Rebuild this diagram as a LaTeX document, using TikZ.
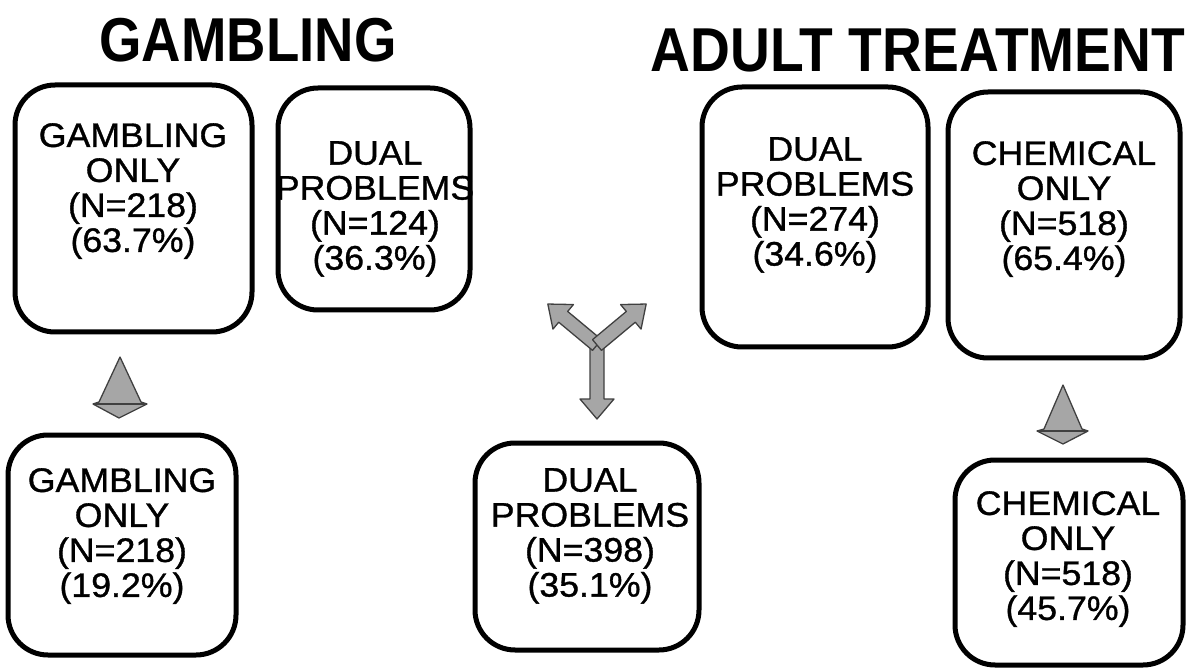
\documentclass[tikz,border=0pt]{standalone}
\usepackage{fontspec}
\setmainfont{Liberation Sans}
\newfontfamily\titlefontA[FakeStretch=0.88]{Liberation Sans}
\newfontfamily\titlefontB[FakeStretch=0.89]{Liberation Sans}
\newfontfamily\boxfont[FakeStretch=1.05,FakeBold=1]{Liberation Sans}
\tikzset{
  box/.style={draw, line width=5pt, rounded corners=40pt, inner sep=0pt},
  boxtext/.style={font=\boxfont\fontsize{34}{35}\selectfont, align=center, anchor=north, inner sep=0pt},
  titletext/.style={font=\bfseries\fontsize{62}{62}\selectfont, anchor=base, inner sep=0pt},
  arrowshape/.style={fill=gray!70, draw=black!75, line width=1.3pt, line join=round},
  barline/.style={draw=black!75, line width=1.4pt}
}
\begin{document}
\begin{tikzpicture}[x=1pt,y=-1pt]
\useasboundingbox (0,0) rectangle (1189,668);
% titles
\node[titletext, font=\titlefontA\bfseries\fontsize{62}{62}\selectfont] (tg) at (248,62) {GAMBLING};
\node[titletext, font=\titlefontB\bfseries\fontsize{62}{62}\selectfont] (ta) at (918,72) {ADULT TREATMENT};
% boxes
\node[box, minimum width=237pt, minimum height=247pt] (b1) at (133.5,208.5) {};
\node[box, minimum width=192pt, minimum height=222pt] (b2) at (374,199) {};
\node[box, minimum width=226pt, minimum height=260pt] (b3) at (815,217) {};
\node[box, minimum width=232pt, minimum height=266pt] (b4) at (1064,225) {};
\node[box, minimum width=228pt, minimum height=220pt] (b5) at (122,545) {};
\node[box, minimum width=224pt, minimum height=207pt] (b6) at (587,546.5) {};
\node[box, minimum width=228pt, minimum height=205pt] (b7) at (1069,562.5) {};
% texts
\node[boxtext] (t1) at (133,123) {GAMBLING\\ONLY\\(N=218)\\(63.7\%)};
\node[boxtext] (t2) at (375,141) {DUAL\\PROBLEMS\\(N=124)\\(36.3\%)};
\node[boxtext] (t3) at (815,137) {DUAL\\PROBLEMS\\(N=274)\\(34.6\%)};
\node[boxtext] (t4) at (1064,141) {CHEMICAL\\ONLY\\(N=518)\\(65.4\%)};
\node[boxtext] (t5) at (122,468) {GAMBLING\\ONLY\\(N=218)\\(19.2\%)};
\node[boxtext] (t6) at (590,468) {DUAL\\PROBLEMS\\(N=398)\\(35.1\%)};
\node[boxtext] (t7) at (1068,491) {CHEMICAL\\ONLY\\(N=518)\\(45.7\%)};
% small down arrows
\draw[arrowshape] (120,357) -- (141,402) -- (147,404) -- (119,418) -- (93,404) -- (99,402) -- cycle;
\draw[barline] (93,404) -- (147,404);
\draw[arrowshape] (1063,385) -- (1082,429) -- (1088,431) -- (1063,444) -- (1037,431) -- (1044,429) -- cycle;
\draw[barline] (1037,431) -- (1088,431);
% Y-shaped arrow
\coordinate (yj) at (597,345);
\foreach \ang/\len/\hw in {-90/74/17, 140.2/64/16, 39.8/64/16}{
  \draw[arrowshape, shift={(yj)}, rotate=\ang]
    (0,-7) -- (\len-20,-7) -- (\len-20,-\hw) -- (\len,0) -- (\len-20,\hw) -- (\len-20,7) -- (0,7) -- cycle;
}
\end{tikzpicture}
\end{document}
